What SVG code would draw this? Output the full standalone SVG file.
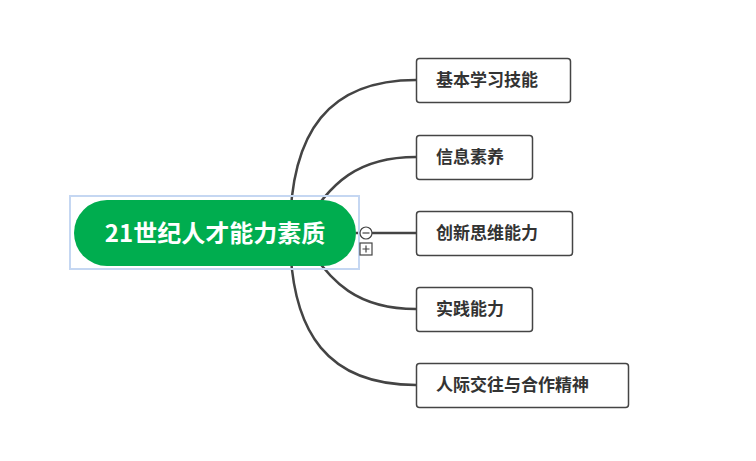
<svg xmlns="http://www.w3.org/2000/svg" width="756" height="461" viewBox="0 0 756 461">
<style>
.c{fill:none;stroke:#444;stroke-width:2.5}
.b{fill:#fff;stroke:#444;stroke-width:1.5}
.t{font-family:"Noto Sans CJK SC",sans-serif;font-size:17px;font-weight:bold;fill:#333}
</style>
<rect width="756" height="461" fill="#fff"/>
<g id="connectors">
<path class="c" d="M290,233 C290,130 330,80 416,80"/>
<path class="c" d="M300,233 C330,180 360,157 416,157"/>
<path class="c" d="M356,233 H416"/>
<path class="c" d="M300,233 C330,286 360,309 416,309"/>
<path class="c" d="M290,233 C290,336 330,385 416,385"/>
</g>
<g id="root">
<rect x="70" y="196" width="289" height="73" fill="none" stroke="#c5d7f2" stroke-width="2"/>
<rect x="74" y="200" width="282" height="66" rx="33" fill="#00ad4f"/>
<text x="215" y="242" text-anchor="middle" font-family="Noto Sans CJK SC,sans-serif" font-size="24" font-weight="bold" fill="#fff">21世纪人才能力素质</text>
<circle cx="366" cy="233" r="6" fill="#fff" stroke="#444" stroke-width="1.2"/>
<path d="M362.5,233H369.5" stroke="#444" stroke-width="1.2"/>
<rect x="360" y="243" width="12" height="12" fill="#fff" stroke="#444" stroke-width="1.2"/>
<path d="M362.5,249H369.5M366,245.5V252.5" stroke="#444" stroke-width="1.2"/>
</g>
<g id="n1"><rect class="b" x="416.5" y="58.5" width="154" height="44" rx="3"/><text class="t" x="436" y="86">基本学习技能</text></g>
<g id="n2"><rect class="b" x="416.5" y="135.5" width="116" height="44" rx="3"/><text class="t" x="436" y="163">信息素养</text></g>
<g id="n3"><rect class="b" x="416.5" y="211.5" width="156" height="44" rx="3"/><text class="t" x="436" y="239">创新思维能力</text></g>
<g id="n4"><rect class="b" x="416.5" y="287.5" width="116" height="44" rx="3"/><text class="t" x="436" y="315">实践能力</text></g>
<g id="n5"><rect class="b" x="416.5" y="363.5" width="212" height="44" rx="3"/><text class="t" x="436" y="391">人际交往与合作精神</text></g>
</svg>
